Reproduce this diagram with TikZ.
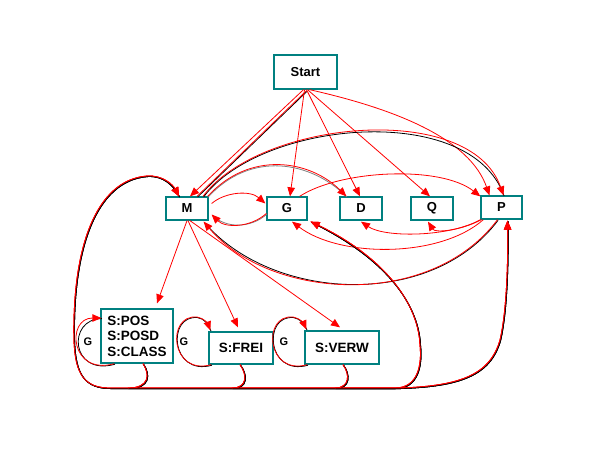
\documentclass[tikz,border=0pt]{standalone}
\usepackage{fontspec}
\setmainfont{Liberation Sans}
\usetikzlibrary{arrows.meta,calc}
\definecolor{teal8}{RGB}{0,128,128}
\definecolor{redE}{RGB}{255,0,0}
\begin{document}
\begin{tikzpicture}[x=1pt,y=-1pt,
 box/.style={draw=teal8,line width=1.3pt,fill=white,inner sep=0pt,font=\bfseries\fontsize{13}{15}\selectfont},
 sbox/.style={box,font=\bfseries\fontsize{13.5}{15.5}\selectfont,align=left},
 edge/.style={draw=redE,line width=0.8pt,-{Triangle[length=9pt,width=7.5pt]}},
 plain/.style={draw=redE,line width=0.8pt},
 shd/.style={preaction={draw=black,line width=0.8pt,arrows=-,transform canvas={shift={(0.6pt,-0.6pt)}}}},
 shdg/.style={preaction={draw=gray,line width=0.8pt,arrows=-,transform canvas={shift={(0.6pt,-0.6pt)}}}},
 lbl/.style={font=\bfseries\fontsize{11}{13}\selectfont,inner sep=0pt}
]
\fill[white] (0,0) rectangle (598,448);
\useasboundingbox (0,0) rectangle (598,448);

% nodes
\node[box,minimum width=63pt,minimum height=34pt] (start) at (305.5,72) {Start};
\node[box,minimum width=42pt,minimum height=23pt] (m) at (187,208.5) {M};
\node[box,minimum width=40pt,minimum height=23pt] (g) at (287,208.5) {G};
\node[box,minimum width=42pt,minimum height=23pt] (d) at (361,208.5) {D};
\node[box,minimum width=42pt,minimum height=23pt] (q) at (432,208.5) {Q};
\node[box,minimum width=41pt,minimum height=23pt] (p) at (501.5,207.5) {P};
\node[sbox,minimum width=72pt,minimum height=54pt] (spos) at (137,336) {S:POS\\S:POSD\\S:CLASS};
\node[sbox,minimum width=64pt,minimum height=32pt] (sfrei) at (241,348) {S:FREI};
\node[sbox,minimum width=74pt,minimum height=33pt] (sverw) at (342,347.5) {S:VERW};
\node[lbl] (g1) at (88,342) {G};
\node[lbl] (g2) at (184,342) {G};
\node[lbl] (g3) at (284,342) {G};

% from Start
\draw[edge] ($(start.south)+(-2,0)$) -- ($(m.north)+(3,0)$);
\draw[plain,shd] ($(start.south)+(1,1)$) -- ($(m.north)+(10,0)$);
\draw[edge] ($(start.south)+(-1,0)$) -- ($(g.north)+(3,0)$);
\draw[edge] ($(start.south)+(1,0)$) -- ($(d.north)+(-1,0)$);
\draw[edge] ($(start.south)+(2,0)$) -- ($(q.north)+(-2,0)$);
\draw[edge] ($(start.south)+(4,0)$) .. controls (400,110) and (470,140) .. ($(p.north)+(-12,0)$);

% among top row
\draw[edge,shd] ($(m.north)+(16,0)$) .. controls (260,120) and (470,100) .. ($(p.north)+(2,0)$);
\draw[edge,shdg] ($(m.north east)+(-1,0)$) .. controls (250,150) and (310,160) .. ($(d.north west)+(7,0)$);
\draw[edge] ($(m.east)+(3,-5)$) .. controls (225,192) and (250,190) .. ($(g.west)+(-1,-5)$);
\draw[edge,shdg] ($(g.west)+(0,5)$) .. controls (250,228) and (225,228) .. ($(m.east)+(3,6)$);
\draw[edge] ($(g.north east)+(-8,0)$) .. controls (340,170) and (440,165) .. ($(p.north west)+(0,1)$);
\draw[edge] ($(p.south west)+(0,0)$) .. controls (450,237) and (385,238) .. ($(d.south)+(0,1)$);
\draw[edge] ($(p.south west)+(1,0)$) .. controls (460,231) and (435,233) .. ($(q.south)+(-4,1)$);
\draw[edge] ($(p.south west)+(3,0)$) .. controls (440,258) and (340,258) .. ($(g.south)+(5,1)$);
\draw[edge,shd] ($(p.south)+(-4,0)$) .. controls (430,310) and (270,300) .. ($(m.south east)+(-5,1)$);

% M down to S boxes
\draw[edge] (m.south) -- ($(spos.north)+(20,-5)$);
\draw[edge] ($(m.south)+(1,0)$) -- ($(sfrei.north)+(-3,-4)$);
\draw[edge] ($(m.south)+(3,0)$) -- ($(sverw.north)+(-2,-3)$);

% self loops G
\draw[edge,shd] ($(spos.south west)+(14,0)$) .. controls (70,376) and (66,318) .. ($(spos.west)+(1,-18)$);
\draw[edge,shd] ($(sfrei.south west)+(3,0)$) .. controls (170,376) and (166,314) .. (197,317) .. controls (204,318) and (208,324) .. ($(sfrei.north west)+(2,-1)$);
\draw[edge,shd] ($(sverw.south west)+(3,0)$) .. controls (266,376) and (262,314) .. (293,317) .. controls (300,318) and (304,324) .. ($(sverw.north west)+(2,-1)$);

% S boxes back to M (left route)
\draw[edge,shd] ($(spos.south)+(6,0)$) .. controls (150,374) and (150,388) .. (128,388) -- (110,388) .. controls (85,388) and (75,375) .. (74,340) .. controls (72,250) and (95,180) .. (147,176) .. controls (163,175) and (173,185) .. ($(m.north)+(-8,0)$);
\draw[edge,shd] ($(sfrei.south)+(-1,0)$) .. controls (247,374) and (248,388) .. (232,388) -- (110,388) .. controls (85,388) and (75,375) .. (74,340) .. controls (72,250) and (95,180) .. (147,176) .. controls (163,175) and (173,185) .. ($(m.north)+(-8,0)$);
\draw[edge,shd] ($(sverw.south)+(1,0)$) .. controls (350,374) and (350,388) .. (335,388) -- (110,388) .. controls (85,388) and (75,375) .. (74,340) .. controls (72,250) and (95,180) .. (147,176) .. controls (163,175) and (173,185) .. ($(m.north)+(-8,0)$);

% S boxes to G
\draw[edge,shd] ($(spos.south)+(6,0)$) .. controls (150,374) and (150,388) .. (128,388) -- (395,388) .. controls (418,388) and (422,365) .. (420,345) .. controls (418,300) and (380,255) .. ($(g.south east)+(3,1)$);
\draw[edge,shd] ($(sfrei.south)+(-1,0)$) .. controls (247,374) and (248,388) .. (232,388) -- (395,388) .. controls (418,388) and (422,365) .. (420,345) .. controls (418,300) and (380,255) .. ($(g.south east)+(3,1)$);
\draw[edge,shd] ($(sverw.south)+(1,0)$) .. controls (350,374) and (350,388) .. (335,388) -- (395,388) .. controls (418,388) and (422,365) .. (420,345) .. controls (418,300) and (380,255) .. ($(g.south east)+(3,1)$);

% S boxes to P
\draw[edge,shd] ($(spos.south)+(6,0)$) .. controls (150,374) and (150,388) .. (128,388) -- (400,388) .. controls (460,386) and (490,375) .. (500,340) .. controls (507,310) and (508,260) .. ($(p.south)+(6,1)$);
\draw[edge,shd] ($(sfrei.south)+(-1,0)$) .. controls (247,374) and (248,388) .. (232,388) -- (400,388) .. controls (460,386) and (490,375) .. (500,340) .. controls (507,310) and (508,260) .. ($(p.south)+(6,1)$);
\draw[edge,shd] ($(sverw.south)+(1,0)$) .. controls (350,374) and (350,388) .. (335,388) -- (400,388) .. controls (460,386) and (490,375) .. (500,340) .. controls (507,310) and (508,260) .. ($(p.south)+(6,1)$);
\end{tikzpicture}
\end{document}
